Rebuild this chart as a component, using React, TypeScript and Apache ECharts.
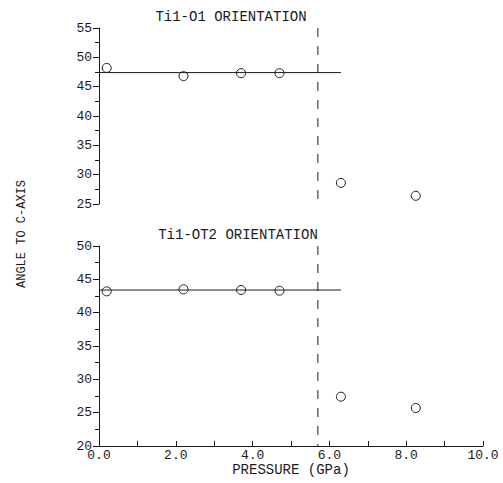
import React, { useEffect, useRef } from "react";
import * as echarts from "echarts";

const pressure = [0.2, 2.2, 3.7, 4.7, 6.3, 8.25];
const angleO1 = [48.2, 46.8, 47.3, 47.3, 28.6, 26.4];
const angleOT2 = [43.2, 43.5, 43.4, 43.3, 27.4, 25.7];
const meanO1 = 47.4;
const meanOT2 = 43.4;
const meanLineEnd = 6.3;
const transitionP = 5.7;
const xTicks = { min: 0, max: 10, interval: 2 };
const yTop = { min: 25, max: 55, interval: 5 };
const yBottom = { min: 20, max: 50, interval: 5 };
const titles = ["Ti1-O1 ORIENTATION", "Ti1-OT2 ORIENTATION"];
const xName = "PRESSURE (GPa)";
const yName = "ANGLE TO C-AXIS";

const FONT = "Liberation Mono";
const INK = "#1a1a1a";

export default function App() {
  const ref = useRef<HTMLDivElement>(null);
  useEffect(() => {
    if (!ref.current) return;
    const chart = echarts.init(ref.current, undefined, { renderer: "svg" });
    const yAxisCommon = {
      axisLine: { show: true, lineStyle: { color: INK, width: 1 } },
      axisTick: { show: true, inside: false, length: 6, lineStyle: { color: INK } },
      minorTick: { show: true, splitNumber: 2, length: 4, lineStyle: { color: INK } },
      splitLine: { show: false },
      axisLabel: { color: INK, fontFamily: FONT, fontSize: 13, margin: 7 },
    };
    const scatterStyle = {
      type: "scatter" as const,
      symbol: "circle",
      symbolSize: 9,
      itemStyle: { color: "#ffffff", borderColor: INK, borderWidth: 1, opacity: 1 },
    };
    const lineStyle = {
      type: "line" as const,
      symbol: "none",
      lineStyle: { color: INK, width: 1 },
    };
    chart.setOption({
      animation: false,
      backgroundColor: "#fff",
      grid: [
        { left: 99, top: 28, width: 384, height: 176 },
        { left: 99, top: 246, width: 384, height: 200 },
      ],
      xAxis: [
        { gridIndex: 0, type: "value", min: xTicks.min, max: xTicks.max, show: false },
        {
          gridIndex: 1,
          type: "value",
          min: xTicks.min,
          max: xTicks.max,
          interval: xTicks.interval,
          axisLine: { show: true, onZero: false, lineStyle: { color: INK, width: 1 } },
          axisTick: { show: true, inside: true, length: 5, lineStyle: { color: INK } },
          minorTick: { show: true, splitNumber: 2, length: 5, lineStyle: { color: INK } },
          splitLine: { show: false },
          axisLabel: {
            color: INK,
            fontFamily: FONT,
            fontSize: 13,
            margin: 3,
            formatter: (v: number) => v.toFixed(1),
          },
          name: xName,
          nameLocation: "middle",
          nameGap: 17,
          nameTextStyle: { color: INK, fontFamily: FONT, fontSize: 14 },
        },
      ],
      yAxis: [
        { gridIndex: 0, type: "value", ...yTop, ...yAxisCommon },
        { gridIndex: 1, type: "value", ...yBottom, ...yAxisCommon },
      ],
      graphic: [
        {
          type: "text",
          x: 231,
          y: 17,
          style: { text: titles[0], fill: INK, font: `14px "${FONT}"`, align: "center", verticalAlign: "middle" },
        },
        {
          type: "text",
          x: 238,
          y: 235,
          style: { text: titles[1], fill: INK, font: `14px "${FONT}"`, align: "center", verticalAlign: "middle" },
        },
        {
          type: "text",
          x: 22,
          y: 234,
          rotation: Math.PI / 2,
          style: { text: yName, fill: INK, font: `12px "${FONT}"`, align: "center", verticalAlign: "middle" },
        },
      ],
      series: [
        {
          ...lineStyle,
          xAxisIndex: 0,
          yAxisIndex: 0,
          data: [[0, meanO1], [meanLineEnd, meanO1]],
        },
        {
          ...lineStyle,
          xAxisIndex: 0,
          yAxisIndex: 0,
          lineStyle: { color: INK, width: 1, type: [9, 9] },
          data: [[transitionP, yTop.max], [transitionP, yTop.min]],
        },
        {
          ...scatterStyle,
          xAxisIndex: 0,
          yAxisIndex: 0,
          data: pressure.map((p, i) => [p, angleO1[i]]),
        },
        {
          ...lineStyle,
          xAxisIndex: 1,
          yAxisIndex: 1,
          data: [[0, meanOT2], [meanLineEnd, meanOT2]],
        },
        {
          ...lineStyle,
          xAxisIndex: 1,
          yAxisIndex: 1,
          lineStyle: { color: INK, width: 1, type: [9, 9] },
          data: [[transitionP, yBottom.max], [transitionP, yBottom.min]],
        },
        {
          ...scatterStyle,
          xAxisIndex: 1,
          yAxisIndex: 1,
          data: pressure.map((p, i) => [p, angleOT2[i]]),
        },
      ],
    });
    return () => chart.dispose();
  }, []);
  return <div ref={ref} style={{ width: 503, height: 483, position: "absolute", left: 0, top: 0 }} />;
}
